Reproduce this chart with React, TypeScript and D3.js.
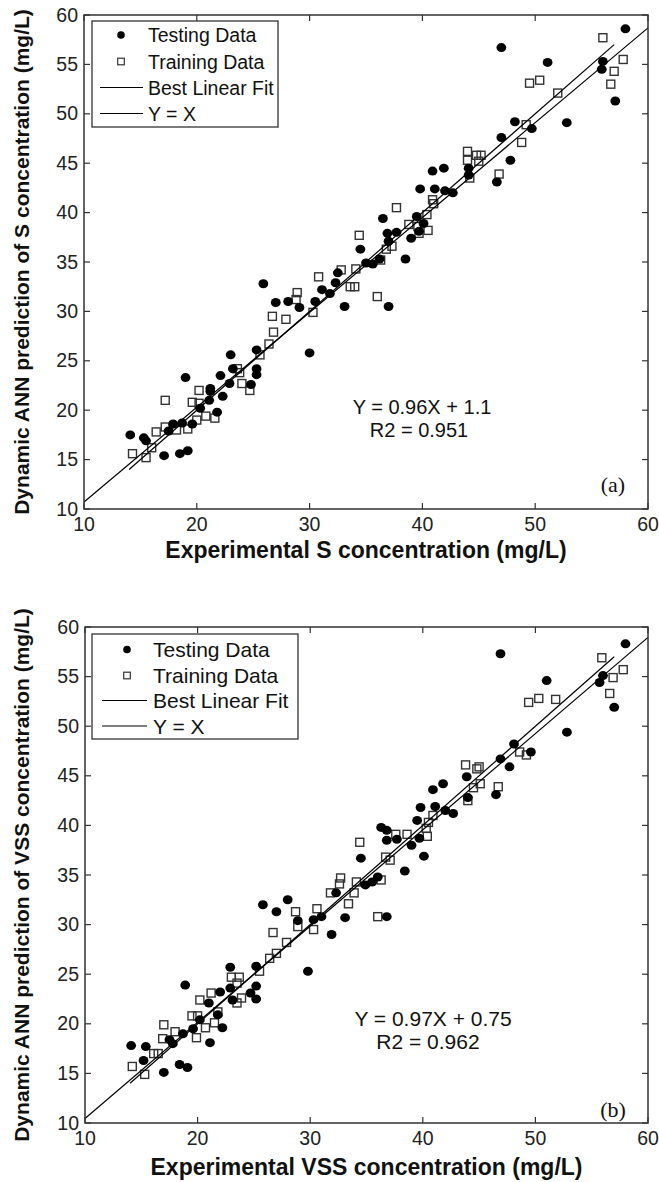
import React from 'react';
import * as d3 from 'd3';

// ---------- data ----------
const xTicks = [10, 20, 30, 40, 50, 60];
const yTicks = [10, 15, 20, 25, 30, 35, 40, 45, 50, 55, 60];
const legendLabels = ['Testing Data', 'Training Data', 'Best Linear Fit', 'Y = X'];

const testingA: [number, number][] = [
  [14.1, 17.5], [15.3, 17.2], [15.5, 16.9], [17.1, 15.4], [17.5, 17.9], [17.9, 18.6], [18.5, 15.6],
  [18.7, 18.7], [19.2, 15.9], [19.0, 23.3], [19.6, 18.6], [20.3, 20.2], [21.1, 21.0], [21.2, 21.9],
  [21.2, 22.2], [21.8, 19.8], [22.3, 21.4], [22.1, 23.5], [22.9, 22.7], [23.0, 25.6], [23.2, 24.2],
  [24.8, 22.6], [25.3, 26.1], [25.3, 24.2], [25.3, 23.6], [25.9, 32.8], [27.0, 30.9], [28.1, 31.0],
  [29.1, 30.4], [30.0, 25.8], [30.5, 31.0], [31.1, 32.2], [31.8, 31.8], [32.3, 32.9], [32.5, 33.9],
  [33.1, 30.5], [34.5, 36.3], [35.0, 34.9], [35.6, 34.8], [36.2, 35.3], [36.5, 39.4], [36.9, 37.9],
  [37.0, 37.1], [37.0, 30.5], [37.7, 38.0], [38.5, 35.3], [39.0, 37.4], [39.5, 39.6], [39.7, 38.1],
  [40.1, 38.9], [39.8, 42.4], [40.9, 44.2], [41.1, 42.4], [41.9, 44.5], [42.0, 42.2], [42.7, 42.0],
  [44.1, 44.5], [44.1, 43.8], [46.6, 43.1], [47.0, 56.7], [47.0, 47.6], [47.8, 45.3], [48.2, 49.2],
  [49.7, 48.5], [51.1, 55.2], [52.8, 49.1], [55.9, 54.5], [56.0, 55.3], [57.1, 51.3], [58.0, 58.6],
];

const trainingA: [number, number][] = [
  [14.3, 15.6], [15.5, 15.2], [16.0, 16.2], [16.4, 17.8], [17.2, 21.0], [17.2, 18.3], [18.2, 18.0],
  [19.2, 18.1], [19.6, 20.8], [20.0, 19.0], [20.2, 22.0], [20.2, 20.7], [20.8, 19.4], [21.6, 19.2],
  [23.6, 24.2], [24.0, 22.7], [24.7, 22.0], [23.8, 23.8], [25.6, 25.6], [26.4, 26.7], [26.7, 29.5],
  [26.8, 27.9], [27.9, 29.2], [28.9, 31.9], [28.8, 31.2], [30.3, 29.9], [30.8, 33.5], [32.8, 34.2],
  [33.6, 32.5], [34.0, 32.5], [34.1, 34.3], [34.4, 37.7], [36.0, 31.5], [36.3, 35.2], [36.8, 36.3],
  [37.3, 36.6], [37.7, 40.5], [38.8, 38.8], [39.6, 38.6], [39.7, 37.9], [40.4, 39.8], [40.5, 38.2],
  [40.9, 41.3], [41.0, 40.9], [44.0, 46.2], [44.0, 45.3], [44.2, 43.5], [44.8, 45.8], [45.2, 45.8],
  [45.0, 45.2], [46.8, 43.9], [48.8, 47.1], [49.2, 48.9], [49.5, 53.1], [50.4, 53.4], [52.0, 52.1],
  [56.0, 57.7], [57.8, 55.5], [57.0, 54.3], [56.7, 53.0],
];

const testingB: [number, number][] = [
  [14.1, 17.8], [15.4, 17.7], [15.2, 16.3], [17.0, 15.1], [17.5, 18.4], [17.8, 18.0], [18.4, 15.9],
  [19.1, 15.6], [18.7, 19.0], [18.9, 23.9], [19.6, 19.5], [20.2, 20.4], [21.1, 18.1], [21.0, 22.1],
  [21.8, 20.9], [22.2, 19.6], [22.0, 23.2], [22.9, 23.6], [22.9, 25.7], [23.1, 22.4], [24.7, 23.1],
  [25.2, 25.8], [25.2, 23.8], [25.2, 22.5], [25.8, 32.0], [27.0, 31.3], [28.0, 32.5], [28.9, 30.4],
  [29.8, 25.3], [30.3, 30.5], [31.0, 30.8], [31.9, 29.0], [32.3, 33.2], [33.1, 30.7], [34.9, 34.0],
  [35.5, 34.3], [36.0, 34.8], [34.5, 36.7], [36.8, 30.8], [38.4, 35.4], [40.1, 36.9], [36.3, 39.8],
  [36.8, 39.5], [36.8, 38.5], [37.7, 38.6], [39.0, 38.0], [39.7, 38.7], [39.5, 40.5], [39.8, 41.8],
  [41.1, 41.9], [40.9, 43.6], [41.8, 44.2], [42.0, 41.5], [42.7, 41.2], [43.9, 44.9], [44.0, 42.8],
  [46.5, 43.1], [46.9, 57.3], [46.9, 46.7], [47.7, 45.9], [48.1, 48.2], [49.6, 47.4], [51.0, 54.6],
  [52.8, 49.4], [55.7, 54.4], [56.0, 55.1], [57.0, 51.9], [58.0, 58.3],
];

const trainingB: [number, number][] = [
  [14.2, 15.7], [15.3, 14.9], [16.1, 17.0], [16.5, 17.0], [17.0, 19.9], [16.9, 18.5], [18.0, 19.2],
  [19.5, 20.8], [20.0, 20.8], [19.9, 18.6], [20.2, 22.4], [20.7, 19.6], [21.2, 23.1], [21.5, 20.1],
  [21.8, 21.2], [23.0, 24.7], [23.5, 22.1], [23.7, 24.7], [23.9, 22.6], [23.5, 24.1], [25.5, 25.3],
  [26.4, 26.6], [27.0, 27.1], [26.7, 29.2], [27.9, 28.2], [28.7, 31.3], [28.9, 29.8], [30.3, 29.5],
  [30.6, 31.6], [31.8, 33.2], [32.7, 34.7], [32.6, 34.1], [33.4, 32.1], [33.9, 33.2], [34.1, 34.3],
  [34.4, 38.3], [36.3, 34.5], [36.0, 30.8], [36.7, 36.8], [37.1, 36.5], [37.6, 39.1], [38.6, 39.1],
  [40.4, 38.9], [40.3, 39.7], [40.9, 41.0], [40.5, 40.3], [43.8, 46.1], [45.0, 45.9], [44.8, 45.7],
  [45.1, 44.2], [44.5, 43.8], [44.0, 42.5], [46.7, 43.9], [48.6, 47.4], [49.2, 47.1], [49.4, 52.4],
  [50.3, 52.8], [51.8, 52.7], [55.9, 56.9], [57.8, 55.7], [56.9, 54.9], [56.6, 53.3],
];

const fitA = [0.96, 1.1]; // slope, intercept
const fitB = [0.97, 0.75];
const fitRange = [10, 60];
const identityRangeA = [14, 57];
const identityRangeB = [14, 57];
const eqTextA = ['Y = 0.96X + 1.1', 'R2 = 0.951'];
const eqTextB = ['Y = 0.97X + 0.75', 'R2 = 0.962'];
const xLabelA = 'Experimental S concentration (mg/L)';
const yLabelA = 'Dynamic ANN prediction of S concentration (mg/L)';
const xLabelB = 'Experimental VSS concentration (mg/L)';
const yLabelB = 'Dynamic ANN prediction of VSS concentration (mg/L)';

// ---------- layout ----------
const SANS = '"Liberation Sans", Arial, sans-serif';
const SERIF = '"Liberation Serif", "Times New Roman", serif';
const FRAME = '#333';

type Cfg = {
  left: number; right: number; top: number; bottom: number;
  testing: [number, number][]; training: [number, number][];
  fit: number[]; identity: number[]; eq: string[]; xLabel: string; yLabel: string; tag: string;
  legend: { x: number; y: number; w: number; h: number; rowY: number[]; markX: number; lineX0: number; lineX1: number; textX: number; fs: number };
  eqPos: { x: number; y1: number; y2: number; fs: number; x2: number };
  xLabelY: number; yLabelX: number; tagPos: { x: number; y: number };
};

const panels: Cfg[] = [
  {
    left: 84, right: 648, top: 15, bottom: 509,
    testing: testingA, training: trainingA, fit: fitA, identity: identityRangeA, eq: eqTextA,
    xLabel: xLabelA, yLabel: yLabelA, tag: '(a)',
    legend: { x: 92, y: 21, w: 186, h: 106, rowY: [35, 61.5, 87.5, 113.5], markX: 121, lineX0: 100, lineX1: 143, textX: 148, fs: 19.5 },
    eqPos: { x: 422, y1: 414, x2: 419, y2: 437, fs: 20 },
    xLabelY: 558, yLabelX: 29, tagPos: { x: 613, y: 492 },
  },
  {
    left: 85, right: 648, top: 627, bottom: 1123,
    testing: testingB, training: trainingB, fit: fitB, identity: identityRangeB, eq: eqTextB,
    xLabel: xLabelB, yLabel: yLabelB, tag: '(b)',
    legend: { x: 92, y: 634, w: 206, h: 105, rowY: [649.5, 675.5, 700.5, 726], markX: 127, lineX0: 102, lineX1: 147, textX: 153, fs: 21 },
    eqPos: { x: 433, y1: 1026, x2: 428, y2: 1049, fs: 21 },
    xLabelY: 1175, yLabelX: 29, tagPos: { x: 613, y: 1117 },
  },
];

function Panel({ c }: { c: Cfg }) {
  const x = d3.scaleLinear().domain([10, 60]).range([c.left, c.right]);
  const y = d3.scaleLinear().domain([10, 60]).range([c.bottom, c.top]);
  const line = d3.line<number>().x((d) => x(d[0])).y((d) => y(d[1]));
  const fitPts: any = fitRange.map((v) => [v, c.fit[0] * v + c.fit[1]]);
  const idPts: any = c.identity.map((v) => [v, v]);
  const tl = 6;
  const L = c.legend;
  const cx = (c.left + c.right) / 2;
  const cy = (c.top + c.bottom) / 2;
  return (
    <g>
      {/* points */}
      {c.training.map((d, i) => (
        <rect key={'tr' + i} x={x(d[0]) - 4} y={y(d[1]) - 4} width={8} height={8}
          fill="none" stroke="#333" strokeWidth={1.4} />
      ))}
      {c.testing.map((d, i) => (
        <ellipse key={'te' + i} cx={x(d[0])} cy={y(d[1])} rx={4.9} ry={4.5} fill="#000" />
      ))}
      {/* lines */}
      <path d={line(fitPts) || ''} fill="none" stroke="#000" strokeWidth={1.2} />
      <path d={line(idPts) || ''} fill="none" stroke="#000" strokeWidth={1.2} />
      {/* frame */}
      <rect x={c.left} y={c.top} width={c.right - c.left} height={c.bottom - c.top}
        fill="none" stroke={FRAME} strokeWidth={1.5} />
      {xTicks.map((t) => (
        <g key={'xt' + t}>
          <line x1={x(t)} x2={x(t)} y1={c.bottom} y2={c.bottom - tl} stroke={FRAME} strokeWidth={1.2} />
          <line x1={x(t)} x2={x(t)} y1={c.top} y2={c.top + tl} stroke={FRAME} strokeWidth={1.2} />
          <text x={x(t)} y={c.bottom + 22} textAnchor="middle" fontFamily={SANS} fontSize={19.5} fill="#222">{t}</text>
        </g>
      ))}
      {yTicks.map((t) => (
        <g key={'yt' + t}>
          <line x1={c.left} x2={c.left + tl} y1={y(t)} y2={y(t)} stroke={FRAME} strokeWidth={1.2} />
          <line x1={c.right} x2={c.right - tl} y1={y(t)} y2={y(t)} stroke={FRAME} strokeWidth={1.2} />
          <text x={c.left - 6} y={y(t) + 6.5} textAnchor="end" fontFamily={SANS} fontSize={19.5} fill="#222">{t}</text>
        </g>
      ))}
      {/* axis labels */}
      <text x={cx} y={c.xLabelY} textAnchor="middle" fontFamily={SANS} fontWeight="bold" fontSize={23} fill="#111">{c.xLabel}</text>
      <text transform={`translate(${c.yLabelX},${cy}) rotate(-90)`} textAnchor="middle" fontFamily={SANS}
        fontWeight="bold" fontSize={21} fill="#111">{c.yLabel}</text>
      {/* equation */}
      <text x={c.eqPos.x} y={c.eqPos.y1} textAnchor="middle" fontFamily={SANS} fontSize={c.eqPos.fs} fill="#111">{c.eq[0]}</text>
      <text x={c.eqPos.x2} y={c.eqPos.y2} textAnchor="middle" fontFamily={SANS} fontSize={c.eqPos.fs} fill="#111">{c.eq[1]}</text>
      <text x={c.tagPos.x} y={c.tagPos.y} textAnchor="middle" fontFamily={SERIF} fontSize={22} fill="#111">{c.tag}</text>
      {/* legend */}
      <rect x={L.x} y={L.y} width={L.w} height={L.h} fill="#fff" stroke={FRAME} strokeWidth={1.3} />
      <circle cx={L.markX} cy={L.rowY[0]} r={3.8} fill="#000" />
      <rect x={L.markX - 3.3} y={L.rowY[1] - 3.3} width={6.6} height={6.6} fill="none" stroke="#333" strokeWidth={1.2} />
      <line x1={L.lineX0} x2={L.lineX1} y1={L.rowY[2]} y2={L.rowY[2]} stroke="#000" strokeWidth={1.1} />
      <line x1={L.lineX0} x2={L.lineX1} y1={L.rowY[3]} y2={L.rowY[3]} stroke="#000" strokeWidth={1.1} />
      {legendLabels.map((s, i) => (
        <text key={'lg' + i} x={L.textX} y={L.rowY[i] + L.fs * 0.36} fontFamily={SANS} fontSize={L.fs} fill="#111">{s}</text>
      ))}
    </g>
  );
}

export default function App() {
  return (
    <svg width={659} height={1182} style={{ position: 'absolute', left: 0, top: 0, background: '#fff' }}>
      <rect x={0} y={0} width={659} height={1182} fill="#fff" />
      {panels.map((c, i) => <Panel key={i} c={c} />)}
    </svg>
  );
}
